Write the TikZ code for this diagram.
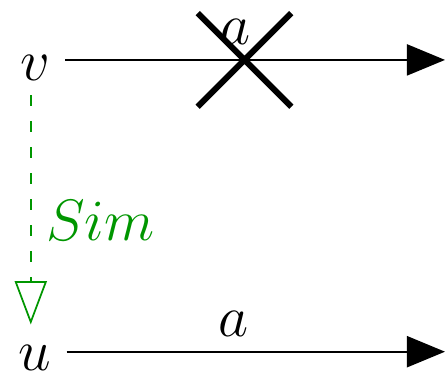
\documentclass[tikz,border=0pt]{standalone}
\usepackage{fix-cm}
\usetikzlibrary{arrows.meta, shapes.misc}
\definecolor{csim}{RGB}{0, 150, 0}
\tikzset{
  vert/.style    = {font=\fontsize{13.5}{16}\selectfont,
                    text height=9.3pt, anchor=base},
  lbl/.style     = {font=\fontsize{13.5}{16}\selectfont},
  edge/.style    = {-{Triangle[length=8.8pt, width=7.2pt]}},
  simedge/.style = {csim, dash pattern=on 2.5pt off 3.5pt,
                    -{Triangle[open, length=10pt, width=7.4pt]},
                    shorten >=-2.3pt},
  blocked/.style = {cross out, draw, line width=1.4pt,
                    minimum size=0.76cm, inner sep=0pt, outer sep=0pt}
}

\begin{document}
\begin{tikzpicture}
\useasboundingbox (0,0) rectangle (3.613,-3.029);

% ── Vertices ───────────────────────────────────────────────────────────────
\node[vert] (v) at (0.285, -0.650) {$v$};
\node[vert] (u) at (0.285, -3.005) {$u$};
\coordinate (rim) at (3.613, 0);

% ── Transitions ────────────────────────────────────────────────────────────
\draw[edge] (v.east) --
  node[pos=0.448, above, lbl] (va) {$a$}
  node[pos=0.472, blocked] (vx) {} (v.east -| rim);
\draw[edge] ([yshift=-0.4pt]u.east) --
  node[pos=0.44, above, lbl] (ua) {$a$} ([yshift=-0.4pt]u.east -| rim);

% ── Simulation ─────────────────────────────────────────────────────────────
\draw[simedge] ([xshift=-1pt]v.south) --
  node[pos=0.57, right, lbl, text=csim] (sim) {$Sim$} ([xshift=-1pt]u.north);

\end{tikzpicture}
\end{document}
